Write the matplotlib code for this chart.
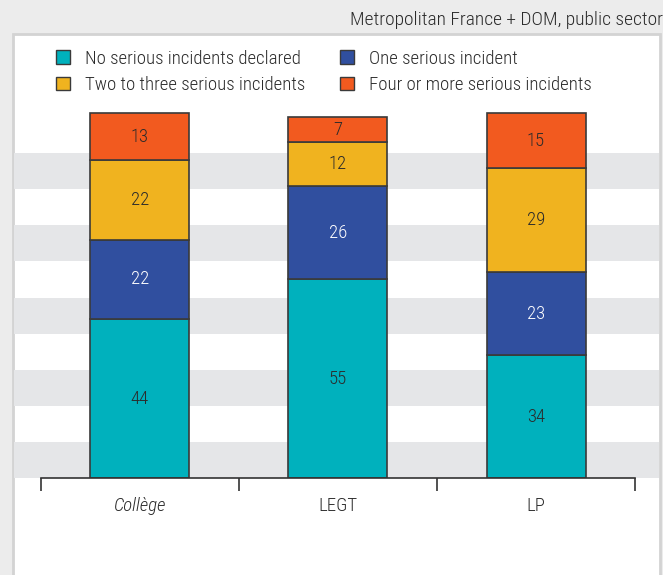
import matplotlib.pyplot as plt
from matplotlib.patches import Patch, Rectangle

# ---------------- data ----------------
categories = ['Collège', 'LEGT', 'LP']
series_names = ['No serious incidents declared', 'One serious incident',
                'Two to three serious incidents', 'Four or more serious incidents']
no_incident = [44, 55, 34]
one_incident = [22, 26, 23]
two_three = [22, 12, 29]
four_more = [13, 7, 15]
colors = ['#00b1bd', '#304f9f', '#f0b31f', '#f25a1f']
label_colors = ['#2b2b2b', 'white', '#2b2b2b', '#2b2b2b']
band_edges = [0, 10, 20, 30, 40, 50, 60, 70, 80, 90]

plt.rcParams['font.family'] = ['Roboto Condensed', 'Barlow Condensed', 'DejaVu Sans']
plt.rcParams['font.weight'] = 300

fig = plt.figure(figsize=(6.63, 5.75), dpi=100, facecolor='#ececec')

# white panel, behind everything
fig.patches.append(Rectangle((13 / 663, -0.01), (660 - 13) / 663, (575 - 33.5) / 575 + 0.01,
                             transform=fig.transFigure, facecolor='white',
                             edgecolor='#d3d3d3', linewidth=2, zorder=-5))

ax = fig.add_axes([14 / 663, (575 - 478) / 575, (659 - 14) / 663, (478 - 99) / 575])
ax.set_facecolor('none')
ax.set_xlim(-0.636, 2.621)
ax.set_ylim(0, 105)

# alternating gray bands
for lo in band_edges[::2]:
    ax.axhspan(lo, lo + 10, color='#e5e6e8', lw=0, zorder=0)

series = [no_incident, one_incident, two_three, four_more]
x = range(len(categories))
bottom = [0, 0, 0]
for vals, col, lc in zip(series, colors, label_colors):
    bars = ax.bar(x, vals, 0.5, bottom=bottom, color=col, edgecolor='#3a3a3a',
                  linewidth=1.2, zorder=2)
    for i, b in enumerate(bars):
        ax.text(b.get_x() + b.get_width() / 2, bottom[i] + vals[i] / 2, str(vals[i]),
                ha='center', va='center', fontsize=13.5, color=lc, zorder=3)
    bottom = [bo + v for bo, v in zip(bottom, vals)]

# axes styling
for s in ['top', 'left', 'right']:
    ax.spines[s].set_visible(False)
ax.spines['bottom'].set_bounds(-0.5, 2.5)
ax.spines['bottom'].set_color('#333333')
ax.spines['bottom'].set_linewidth(1.2)
ax.set_yticks([])
ax.set_xticks([-0.5, 0.5, 1.5, 2.5])
ax.set_xticklabels([])
ax.tick_params(axis='x', which='major', length=9, width=1.2, color='#333333', direction='out')
ax.set_xticks(list(x), minor=True)
ax.set_xticklabels(categories, minor=True, fontsize=13.5, color='#2b2b2b')
ax.tick_params(axis='x', which='minor', length=0, pad=14)
ax.get_xticklabels(minor=True)[0].set_style('italic')

# legend: column-wise fill
order = [0, 2, 1, 3]
handles = [Patch(facecolor=colors[k], edgecolor='#3a3a3a', linewidth=1, label=series_names[k])
           for k in order]
fig.legend(handles=handles, loc='upper left', bbox_to_anchor=(48 / 663, 1 - 42 / 575),
           ncol=2, frameon=False, fontsize=13.5, handlelength=0.75, handleheight=0.75,
           handletextpad=0.8, columnspacing=1.85, labelspacing=0.45, borderaxespad=0,
           labelcolor='#2b2b2b')

fig.text(663 / 663, 1 - 20 / 575, 'Metropolitan France + DOM, public sector',
         ha='right', va='center', fontsize=14, color='#2b2b2b')

fig.savefig('out.png', dpi=100, facecolor=fig.get_facecolor())
